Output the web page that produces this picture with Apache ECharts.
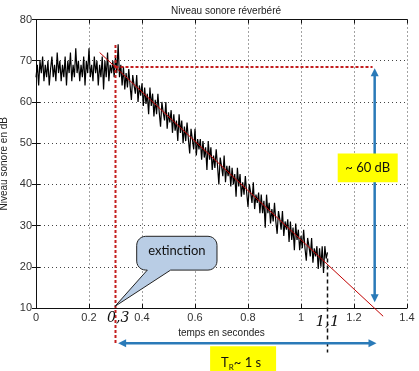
<!DOCTYPE html>
<html><head><meta charset="utf-8">
<script src="https://cdn.jsdelivr.net/npm/echarts@6/dist/echarts.min.js"></script>
<style>html,body{margin:0;padding:0;background:#fff}#c{width:419px;height:371px}</style>
</head><body><div id="c"></div>
<script>
// sampled level, dt = 0.005 s, starting at t = 0
const sampleStep = 0.005;
const levelDb = [
66,69,64,70,67,71,65,69,66,70,64,68,71,66,69,65,72,67,70,65,
69,66,71,64,70,67,72,65,69,66,73,67,70,65,69,66,71,64,70,67,
73,66,69,65,71,67,70,64,69,66,71,63,70,66,72,65,69,67,70,66,
71,67,74,66,69,64,
68.5,63,67,63.5,68,64,60.5,66.5,64,62,66.5,60,64,61.5,64.5,59,63.5,59.5,62,57,
63.5,59,62,56.5,60.5,57,62,57.5,54,60,57.5,55.5,60,53.5,57.5,55,58,52.5,57,53,
55.5,50.5,57,52.5,55.5,50,54,50.5,55,51,47.5,53.5,51,48.5,53.5,47,51,48.5,51,46,
50.5,46.5,49,43.5,50.5,46,49,43.5,47,44,48.5,44.5,40,46.5,44.5,42,47,40.5,44.5,42,
44.5,39.5,44,40,42.5,37,44,39.5,42.5,37,40.5,37.5,42,38,34.5,40,38,35.5,40.5,34,
37.5,35.5,38,33,37.5,33,36,29.5,37.5,33,35.5,30.5,34,31,35.5,31,28,33.5,31.5,29,
33.5,27.5,31,29,31.5,26,31,26.5,29.5,24,30.5,26.5,29,24,27.5,24.5,29,24.5,21.5,27,
25,22.5,27,21,24.5,22.5,25,19.5,24.5,20,25,18.5,25,22,23.5
];
// fitted decay line (start, end)
const fitT = [0.24, 1.31];
const fitDb = [72, 8];
const xTicks = [0, 0.2, 0.4, 0.6, 0.8, 1, 1.2, 1.4];
const yTicks = [10, 20, 30, 40, 50, 60, 70, 80];
const tStop = 0.3, tEnd = 1.1, levelStart = 68.5;

const chart = echarts.init(document.getElementById('c'), null, {renderer: 'canvas'});
const signal = levelDb.map((v, i) => [+(i * sampleStep).toFixed(3), v]);
const gridLine = {show: true, lineStyle: {color: '#444', width: 1, type: [1, 3]}};
const font = 'Liberation Sans, Arial, sans-serif';

chart.setOption({
  animation: false,
  title: {text: 'Niveau sonore réverbéré', left: 221, textAlign: 'center', top: 1,
    textStyle: {fontSize: 10, fontWeight: 'normal', color: '#222', fontFamily: font}},
  grid: {left: 36, right: 12, top: 19.5, bottom: 63, outerBoundsMode: 'none', containLabel: false},
  xAxis: [{
    type: 'value', min: 0, max: 1.4, interval: 0.2,
    name: 'temps en secondes', nameLocation: 'middle', nameGap: 17,
    nameTextStyle: {fontSize: 10, color: '#222', fontFamily: font},
    axisLine: {lineStyle: {color: '#111', width: 1}},
    axisTick: {inside: true, length: 4, lineStyle: {color: '#111'}},
    axisLabel: {fontSize: 11, color: '#333', margin: 4, fontFamily: font,
      formatter: v => xTicks.includes(+v.toFixed(1)) ? String(+v.toFixed(1)) : ''},
    splitLine: gridLine
  }, {
    type: 'value', min: 0, max: 1.4, interval: 0.2, position: 'top',
    axisLine: {show: true, lineStyle: {color: '#111'}},
    axisTick: {inside: true, length: 4, lineStyle: {color: '#111'}},
    axisLabel: {show: false}, splitLine: {show: false}
  }],
  yAxis: [{
    type: 'value', min: 10, max: 80, interval: 10,
    name: 'Niveau sonore en dB', nameLocation: 'middle', nameGap: 25,
    nameTextStyle: {fontSize: 10, color: '#222', fontFamily: font},
    axisLine: {show: true, lineStyle: {color: '#111'}},
    axisTick: {show: true, inside: true, length: 4, lineStyle: {color: '#111'}},
    axisLabel: {fontSize: 11, color: '#333', margin: 4, fontFamily: font,
      formatter: v => yTicks.includes(v) ? String(v) : ''},
    splitLine: gridLine
  }, {
    type: 'value', min: 10, max: 80, interval: 10, position: 'right',
    axisLine: {show: true, lineStyle: {color: '#111'}},
    axisTick: {show: true, inside: true, length: 4, lineStyle: {color: '#111'}},
    axisLabel: {show: false}, splitLine: {show: false}
  }],
  series: [{
    type: 'line', data: signal, showSymbol: false, symbol: 'none',
    lineStyle: {color: '#000', width: 1.2}, z: 2
  }, {
    type: 'line', data: [[fitT[0], fitDb[0]], [fitT[1], fitDb[1]]], clip: false,
    showSymbol: false, symbol: 'none', lineStyle: {color: '#c00000', width: 1}, z: 3
  }]
});

const P = (x, y) => chart.convertToPixel({gridIndex: 0}, [x, y]);
const blue = '#2a7ab8', red = '#c41e1e';
const g = [];
function seg(a, b, style) { g.push({type: 'line', shape: {x1: a[0], y1: a[1], x2: b[0], y2: b[1]}, style, z: 10}); }
function head(tip, dir) {
  const L = 8, W = 4, bx = tip[0] - dir[0] * L, by = tip[1] - dir[1] * L;
  g.push({type: 'polygon', shape: {points: [tip, [bx - dir[1] * W, by + dir[0] * W], [bx + dir[1] * W, by - dir[0] * W]]},
    style: {fill: blue}, z: 11});
}
// red dotted construction lines
seg(P(tStop, 73.8), P(tStop, 1.2), {stroke: red, lineWidth: 2, lineDash: [3, 2]});
seg(P(tStop, levelStart), P(1.27, levelStart), {stroke: red, lineWidth: 2, lineDash: [3, 2]});
// black dashed at end of decay
seg(P(tEnd, 22), P(tEnd, -0.8), {stroke: '#111', lineWidth: 1.5, lineDash: [4, 3]});
// vertical blue double arrow
const aT = P(1.278, 68.2), aB = P(1.278, 11.4);
seg([aT[0], aT[1] + 6], [aB[0], aB[1] - 6], {stroke: blue, lineWidth: 2.5});
head(aT, [0, -1]); head(aB, [0, 1]);
// horizontal blue arrow
const bL = P(0.31, 1.45), bR = P(1.285, 1.45);
seg([bL[0] + 6, bL[1]], [bR[0] - 6, bR[1]], {stroke: blue, lineWidth: 2.5});
head(bL, [-1, 0]); head(bR, [1, 0]);
// yellow boxes
const y1a = P(1.1385, 47.5), y1b = P(1.365, 40.5);
g.push({type: 'rect', shape: {x: y1a[0], y: y1a[1], width: y1b[0] - y1a[0], height: y1b[1] - y1a[1]}, style: {fill: '#ffff00'}, z: 12});
g.push({type: 'text', x: (y1a[0] + y1b[0]) / 2, y: (y1a[1] + y1b[1]) / 2,
  style: {text: '~ 60 dB', fill: '#111', font: '13px Lato, sans-serif', align: 'center', verticalAlign: 'middle'}, z: 13});
const y2a = P(0.657, 0.7), y2b = P(0.906, -5.6);
g.push({type: 'rect', shape: {x: y2a[0], y: y2a[1], width: y2b[0] - y2a[0], height: y2b[1] - y2a[1]}, style: {fill: '#ffff00'}, z: 12});
g.push({type: 'text', x: y2a[0] + 11, y: (y2a[1] + y2b[1]) / 2 + 1,
  style: {text: '{a|T}{b|R}{a|~ 1 s}', align: 'left', verticalAlign: 'middle',
    rich: {a: {fontSize: 13, fontFamily: 'Lato, sans-serif', fill: '#111', lineHeight: 18, verticalAlign: 'bottom'},
           b: {fontSize: 8, fontFamily: 'Lato, sans-serif', fill: '#111', lineHeight: 14, verticalAlign: 'bottom', padding: [0, 0, -2, 0]}}}, z: 13});
// callout "extinction" as polygon (rounded body + tail)
const cA = P(0.38, 27.4), cB = P(0.683, 19.2), tip = P(0.298, 10.4), t1 = P(0.42, 19.2), t2 = P(0.508, 19.2);
const r = 9, L = cA[0], T = cA[1], R = cB[0], B = cB[1];
const pts = [];
function arc(cx, cy, a0, a1) { for (let k = 0; k <= 6; k++) { const a = a0 + (a1 - a0) * k / 6; pts.push([cx + r * Math.cos(a), cy + r * Math.sin(a)]); } }
arc(R - r, T + r, -Math.PI / 2, 0);
arc(R - r, B - r, 0, Math.PI / 2);
pts.push([t2[0], B], [tip[0], tip[1]], [t1[0], B]);
arc(L + r, B - r, Math.PI / 2, Math.PI);
arc(L + r, T + r, Math.PI, 1.5 * Math.PI);
g.push({type: 'polygon', shape: {points: pts}, style: {fill: '#b9cde5', stroke: '#222', lineWidth: 1}, z: 12});
g.push({type: 'text', x: (L + R) / 2, y: (T + B) / 2 - 2,
  style: {text: 'extinction', fill: '#111', font: '13px Lato, sans-serif', align: 'center', verticalAlign: 'middle'}, z: 13});
// handwritten tick notes
const n1 = P(0.31, 7.6), n2 = P(1.1, 6.6);
g.push({type: 'text', x: n1[0], y: n1[1], style: {text: '0,3', fill: '#111', font: 'italic 14px "DejaVu Serif", serif', align: 'center', verticalAlign: 'middle'}, z: 13});
g.push({type: 'text', x: n2[0], y: n2[1], style: {text: '1,1', fill: '#111', font: 'italic 15px "DejaVu Serif", serif', align: 'center', verticalAlign: 'middle'}, z: 13});
chart.setOption({graphic: g});
</script></body></html>
